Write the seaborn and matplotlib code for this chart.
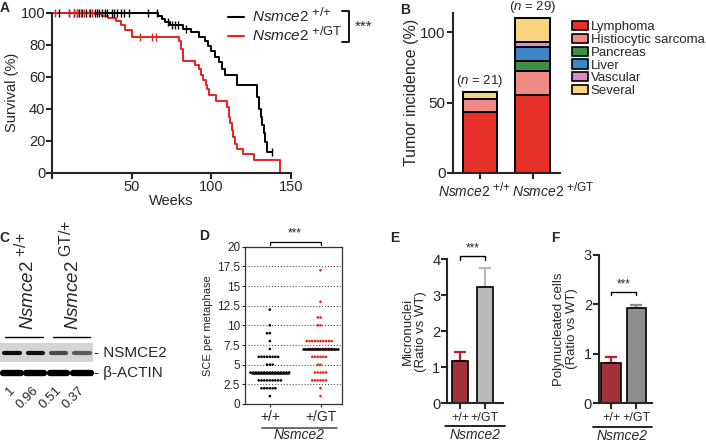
import numpy as np
import pandas as pd
import seaborn as sns
import matplotlib.pyplot as plt
import matplotlib._mathtext as mathtext_internals
from matplotlib.patches import Patch
from matplotlib.lines import Line2D
from matplotlib.transforms import ScaledTranslation

# ---- A: survival (Kaplan-Meier steps)
wt_weeks = [0, 66.5, 69, 71, 74, 82, 87, 92, 96, 98, 100, 102.5, 105, 106.5, 108.6, 116, 128.5, 130, 131, 132, 133, 134, 135, 138]
wt_surv = [100, 98, 96, 94, 92, 90, 88, 85, 82, 79, 76, 72, 69, 65, 61, 55, 47, 40, 35, 30, 25, 19, 13, 13]
gt_weeks = [0, 27, 31, 35, 40, 43, 46, 50, 80, 81, 82.5, 90, 92, 93.5, 95, 96.5, 97.5, 98.5, 103, 110, 111, 112, 113, 114, 115, 116, 120, 127, 141, 143]
gt_surv = [100, 99, 98, 96.5, 94.5, 92, 89, 85, 82, 77, 70, 67, 65, 61, 58, 55, 52, 48.5, 45, 41, 35, 31, 27, 22.5, 18, 15, 11.5, 8, 8, 0]
wt_censored = [4, 10.5, 13.5, 15.5, 17, 19, 21, 24, 27, 28, 29.5, 31.5, 33, 34.5, 37.5, 39, 41, 43, 45, 48.5, 60, 66, 73, 75, 77, 79, 84, 138]
gt_censored = [2, 10.5, 13.5, 15.5, 18, 20, 23, 25, 55, 63, 65]

# ---- B: tumor incidence (%)
genotypes = ['+/+', '+/GT']
tumor_types = ['Lymphoma', 'Histiocytic sarcoma', 'Pancreas', 'Liver', 'Vascular', 'Several']
lymphoma = [42.9, 55.2]
histiocytic = [9.5, 17.2]
pancreas = [0.0, 6.9]
liver = [0.0, 10.3]
vascular = [0.0, 3.4]
several = [4.8, 17.2]
n_mice = [21, 29]

# ---- C: western blot quantification
blot_quant = [1, 0.96, 0.51, 0.37]

# ---- D: SCE per metaphase (value, number of metaphases)
sce_wt_values = [1, 2, 3, 4, 5, 6, 7, 8, 9, 10, 12]
sce_wt_counts = [1, 6, 9, 15, 3, 8, 1, 1, 2, 1, 1]
sce_gt_values = [1, 2, 3, 4, 5, 6, 7, 8, 10, 11, 13, 17]
sce_gt_counts = [1, 1, 6, 5, 2, 6, 9, 10, 2, 2, 1, 1]

# ---- E, F: ratio vs WT (mean, upper error)
micronuclei = [1.18, 3.22]
micronuclei_err = [0.25, 0.53]
polynucleated = [0.81, 1.92]
polynucleated_err = [0.13, 0.06]

sns.set_style('ticks')
plt.rcParams['font.family'] = ['Liberation Sans', 'DejaVu Sans']
plt.rcParams['mathtext.fontset'] = 'custom'
plt.rcParams['mathtext.it'] = 'Liberation Sans:italic'
plt.rcParams['mathtext.rm'] = 'Liberation Sans'
plt.rcParams['mathtext.sf'] = 'Liberation Sans'
plt.rcParams['axes.linewidth'] = 1.5
# genotype superscripts are nearly full size in the figure
mathtext_internals.SHRINK_FACTOR = 0.85

W, H = 706, 443
fig = plt.figure(figsize=(W / 100, H / 100), dpi=100)


def px_axes(x0, y0, x1, y1):
    # axes from pixel box (top-left origin)
    return fig.add_axes([x0 / W, 1 - y1 / H, (x1 - x0) / W, (y1 - y0) / H])


lab_wt = r'$\mathit{Nsmce2}^{\ {+}/{+}}$'
lab_gt = r'$\mathit{Nsmce2}^{\ {+}/\mathrm{GT}}$'
red = '#e8231f'

# ================= A
axA = px_axes(52.3, 12.7, 290.7, 172.7)
sns.lineplot(x=wt_weeks, y=wt_surv, drawstyle='steps-post', color='black', lw=1.4,
             estimator=None, ax=axA, clip_on=False)
sns.lineplot(x=gt_weeks, y=gt_surv, drawstyle='steps-post', color=red, lw=1.4,
             estimator=None, ax=axA, clip_on=False)


def surv_at(times, weeks, surv):
    idx = np.searchsorted(weeks, times, side='right') - 1
    return np.asarray(surv)[idx]


sns.scatterplot(x=wt_censored, y=surv_at(wt_censored, wt_weeks, wt_surv), marker='|',
                s=28, color='black', linewidth=1.0, ax=axA, clip_on=False, zorder=3)
sns.scatterplot(x=gt_censored, y=surv_at(gt_censored, gt_weeks, gt_surv), marker='|',
                s=28, color=red, linewidth=1.0, ax=axA, clip_on=False, zorder=3)
axA.set_xlim(0, 150)
axA.set_ylim(0, 100)
axA.set_xticks([0, 50, 100, 150])
axA.set_xticklabels(['', '50', '100', '150'])
axA.set_yticks([0, 20, 40, 60, 80, 100])
axA.tick_params(labelsize=10.5, width=1.5, length=4, pad=1)
axA.set_xlabel('Weeks', fontsize=10.5, labelpad=0)
axA.set_ylabel('Survival (%)', fontsize=10.5, labelpad=1)
sns.despine(ax=axA)
axA.legend(handles=[Line2D([], [], color='black', lw=1.5, label=lab_wt),
                    Line2D([], [], color=red, lw=1.5, label=lab_gt)],
           loc='upper left', bbox_to_anchor=(0.735, 1.04), frameon=False, fontsize=11,
           handlelength=1.1, handletextpad=0.5, labelspacing=0.0, borderpad=0, borderaxespad=0)
axA.plot([1.214, 1.246, 1.246, 1.214], [1.011, 1.011, 0.819, 0.819], color='black', lw=1.3,
         transform=axA.transAxes, clip_on=False)
axA.text(1.268, 0.915, '***', transform=axA.transAxes, fontsize=11, va='center', ha='left')

# ================= B
axB = px_axes(452.7, 12.7, 560, 172.7)
parts = [lymphoma, histiocytic, pancreas, liver, vascular, several]
colors = ['#e8302a', '#f08a84', '#3f8f45', '#3c85c6', '#d98cc8', '#f8d47e']
bottom = np.zeros(len(genotypes))
xpos = np.arange(len(genotypes))
for vals, col, name in zip(parts, colors, tumor_types):
    axB.bar(xpos, vals, bottom=bottom, width=0.66, color=col, edgecolor='black', linewidth=1.4, label=name)
    bottom = bottom + np.array(vals)
for x, tot, n in zip(xpos, bottom, n_mice):
    axB.text(x, tot + 2.5, '($n$ = %d)' % n, ha='center', va='bottom', fontsize=9.5, clip_on=False)
axB.set_xlim(-0.52, 1.52)
axB.set_ylim(0, 114)
axB.set_yticks([0, 50, 100])
axB.set_xticks(xpos)
axB.set_xticklabels([lab_wt, lab_gt])
axB.tick_params(labelsize=11, width=1.5, length=4, pad=1)
axB.tick_params(axis='x', labelsize=10, pad=2)
for lbl, dx in zip(axB.get_xticklabels(), [-6, 21]):
    lbl.set_transform(lbl.get_transform() + ScaledTranslation(dx / 100, 0, fig.dpi_scale_trans))
axB.set_ylabel('Tumor incidence (%)', fontsize=11.5, labelpad=1)
sns.despine(ax=axB)
axB.legend(handles=[Patch(facecolor=c, edgecolor='black', lw=1.2, label=t) for c, t in zip(colors, tumor_types)],
           loc='upper left', bbox_to_anchor=(1.115, 0.948), frameon=False, fontsize=9.5,
           handlelength=1.15, handleheight=0.7, handletextpad=0.25, labelspacing=0.04,
           borderpad=0, borderaxespad=0)

# ================= C (western blot drawing)
axC = px_axes(0, 221, 200, 443)
axC.set_xlim(-12 / 23.3, 188 / 23.3)
axC.set_ylim(4.38, -6.39)
axC.axis('off')
lanes = np.arange(len(blot_quant))
axC.fill_between([-0.515, 3.48], -0.46, 0.47, color='#d4d4d4', lw=0)
for lane, q in zip(lanes, blot_quant):
    axC.plot([lane - 0.33, lane + 0.33], [0, 0], color='black', alpha=0.35 + 0.6 * q,
             lw=3.0, solid_capstyle='round')
    axC.plot([lane - 0.38, lane + 0.38], [1, 1], color='black', lw=4.6, solid_capstyle='round')
    axC.text(lane + 0.22, 1.55, ('%g' % q), rotation=45, ha='right', va='top', fontsize=9.5)
axC.plot([-0.3, 1.33], [-0.78, -0.78], color='black', lw=1)
axC.plot([1.76, 3.35], [-0.78, -0.78], color='black', lw=1)
axC.text(0.55, -1.1, lab_wt, rotation=90, ha='center', va='bottom', fontsize=13.5)
axC.text(2.5, -1.1, r'$\mathit{Nsmce2}^{\ \mathrm{GT}/{+}}$', rotation=90, ha='center', va='bottom', fontsize=13.5)
axC.text(3.52, 0, '- NSMCE2', ha='left', va='center', fontsize=11)
axC.text(3.52, 1, '- \u03b2-ACTIN', ha='left', va='center', fontsize=11)

# ================= D
axD = px_axes(245, 246.7, 342.3, 404)
sce = pd.DataFrame({
    'group': ['+/+'] * sum(sce_wt_counts) + ['+/GT'] * sum(sce_gt_counts),
    'sce': np.concatenate([np.repeat(sce_wt_values, sce_wt_counts), np.repeat(sce_gt_values, sce_gt_counts)]),
})
for v in np.arange(2.5, 20, 2.5):
    axD.axhline(v, color='#555555', lw=0.8, ls=':', zorder=0)
sns.swarmplot(data=sce, x='group', y='sce', hue='group', palette=['black', red], size=1.9,
              legend=False, ax=axD, zorder=3)
for i, g in enumerate(genotypes):
    med = np.median(sce.loc[sce['group'] == g, 'sce'])
    axD.hlines(med, i - 0.37, i + 0.37, color='black', lw=1.8, zorder=4)
axD.set_xlim(-0.49, 1.43)
axD.set_ylim(0, 20)
axD.set_yticks(np.arange(0, 20.1, 2.5))
axD.set_yticklabels(['0', '2.5', '5', '7.5', '10', '12.5', '15', '17.5', '20'])
axD.tick_params(axis='y', labelsize=8.5, width=0.8, length=2.5, pad=1)
axD.tick_params(axis='x', labelsize=10, width=0.8, length=2.5, pad=2)
for s in axD.spines.values():
    s.set_linewidth(0.9)
    s.set_color('#333333')
axD.set_xlabel('')
axD.set_ylabel('SCE per metaphase', fontsize=8, labelpad=3)
axD.plot([0, 0, 1, 1], [20.2, 20.64, 20.64, 20.2], color='black', lw=0.9, clip_on=False)
axD.text(0.5, 20.9, '***', ha='center', va='bottom', fontsize=8.5)
axD.plot([0.172, 0.946], [-0.151, -0.151], color='#555555', lw=1.2, transform=axD.transAxes, clip_on=False)
axD.text(0.555, -0.2, 'Nsmce2', style='italic', ha='center', va='center', fontsize=10,
         transform=axD.transAxes)


# ================= E, F
def ratio_panel(box, vals, errs, bar_gray, err_colors, ylim, yticks, ylabel, sig_y, width, xlim, line_x, line_y, lab_x):
    ax = px_axes(*box)
    df = pd.DataFrame({'g': genotypes, 'v': vals})
    sns.barplot(data=df, x='g', y='v', hue='g', palette=['#b5202a', bar_gray], edgecolor='black',
                linewidth=1.2, width=width, legend=False, ax=ax, zorder=2)
    for i, (v, e, c) in enumerate(zip(vals, errs, err_colors)):
        ax.errorbar(i, v, yerr=[[0], [e]], fmt='none', ecolor=c, elinewidth=1.6, capsize=4.5,
                    capthick=1.6, zorder=1)
    ax.set_xlim(*xlim)
    ax.set_ylim(*ylim)
    ax.set_yticks(yticks)
    ax.tick_params(axis='y', labelsize=10.5, width=1.5, length=4, pad=1)
    ax.tick_params(axis='x', labelsize=9, width=1.5, length=4, pad=2)
    ax.set_xlabel('')
    ax.set_ylabel(ylabel, fontsize=9.5, labelpad=4, linespacing=1.1)
    sns.despine(ax=ax)
    top, leg = sig_y
    ax.plot([0, 0, 1, 1], [leg, top, top, leg], color='black', lw=1.0, clip_on=False)
    ax.text(0.5, top + (ylim[1] - ylim[0]) * 0.01, '***', ha='center', va='bottom', fontsize=8.5)
    ax.plot(line_x, [line_y, line_y], color='black', lw=1.2, transform=ax.transAxes, clip_on=False)
    ax.text(lab_x, line_y - 0.062, 'Nsmce2', style='italic', ha='center', va='center', fontsize=10,
            transform=ax.transAxes)
    return ax


ratio_panel((447.3, 259.3, 503.3, 403.3), micronuclei, micronuclei_err, '#b9b9b9', ['#b5202a', '#b9b9b9'],
            (0, 4), [0, 1, 2, 3, 4], 'Micronuclei\n(Ratio vs WT)', (4.09, 3.98), 0.66, (-0.52, 1.75),
            [-0.04, 1.03], -0.158, 0.49)
ratio_panel((599, 254.8, 651.7, 403.3), polynucleated, polynucleated_err, '#8e8e8e', ['#b5202a', '#8e8e8e'],
            (0, 3), [0, 1, 2, 3], 'Polynucleated cells\n(Ratio vs WT)', (2.24, 2.19), 0.77, (-0.48, 1.6),
            [-0.11, 1.0], -0.158, 0.43)

# panel letters
for letter, (x, y) in zip('ABCDEF', [(5, 8.5), (405, 9.5), (4, 238), (204, 236), (395, 238), (555, 238)]):
    fig.text(x / W, 1 - y / H, letter, fontsize=10, fontweight='bold', ha='center', va='center')

fig.savefig('out.png', dpi=100)
